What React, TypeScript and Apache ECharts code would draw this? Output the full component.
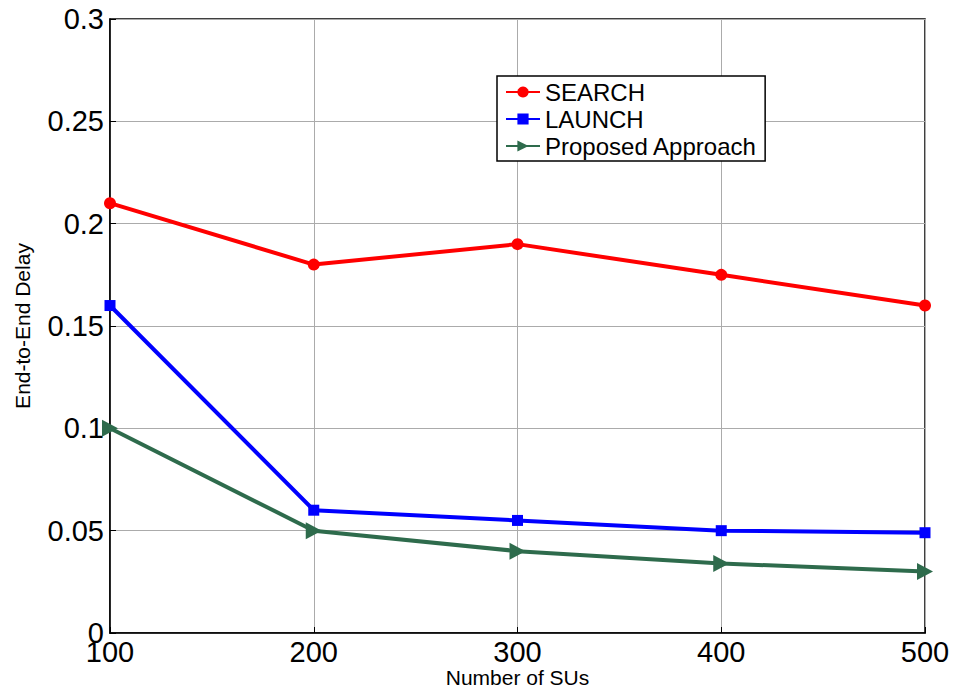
import React, { useEffect, useRef } from "react";
import * as echarts from "echarts";

const xValues = [100, 200, 300, 400, 500];
const searchValues = [0.21, 0.18, 0.19, 0.175, 0.16];
const launchValues = [0.16, 0.06, 0.055, 0.05, 0.049];
const proposedValues = [0.1, 0.05, 0.04, 0.034, 0.03];
const seriesNames = ["SEARCH", "LAUNCH", "Proposed Approach"];

const FONT = "'Liberation Sans', Arial, sans-serif";

export default function App() {
  const ref = useRef<HTMLDivElement>(null);
  useEffect(() => {
    if (!ref.current) return;
    const chart = echarts.init(ref.current, undefined, { renderer: "svg" });
    const pair = (vals: number[]) => xValues.map((x, i) => [x, vals[i]]);
    chart.setOption({
      animation: false,
      backgroundColor: "#ffffff",
      textStyle: { fontFamily: FONT },
      grid: {
        left: 110,
        top: 19,
        width: 815,
        height: 614,
        outerBoundsMode: "none",
        containLabel: false,
        show: true,
        borderColor: "#000",
        borderWidth: 1.5,
        backgroundColor: "transparent",
      },
      legend: {
        left: 497,
        top: 76,
        orient: "vertical",
        data: seriesNames,
        backgroundColor: "#fff",
        borderColor: "#000",
        borderWidth: 1.5,
        borderRadius: 0,
        padding: [4, 8, 3, 8],
        itemWidth: 34,
        itemHeight: 14,
        itemGap: 3,
        textStyle: { fontSize: 24, color: "#000", fontFamily: FONT },
      },
      xAxis: {
        type: "value",
        min: 100,
        max: 500,
        interval: 100,
        name: "Number of SUs",
        nameLocation: "middle",
        nameGap: 34,
        nameMoveOverlap: false,
        nameTextStyle: { fontSize: 21, color: "#000", fontFamily: FONT },
        axisLine: { lineStyle: { color: "#000", width: 1.5 } },
        axisTick: { inside: true, length: 6, lineStyle: { color: "#000" } },
        axisLabel: { fontSize: 29, color: "#000", margin: 4, fontFamily: FONT },
        splitLine: { show: true, lineStyle: { color: "#ababab", width: 1 } },
      },
      yAxis: {
        type: "value",
        min: 0,
        max: 0.3,
        interval: 0.05,
        name: "End-to-End Delay",
        nameLocation: "middle",
        nameGap: 77,
        nameMoveOverlap: false,
        nameTextStyle: { fontSize: 21, color: "#000", fontFamily: FONT },
        axisLine: { lineStyle: { color: "#000", width: 1.5 } },
        axisTick: { inside: true, length: 6, lineStyle: { color: "#000" } },
        axisLabel: { fontSize: 29, color: "#000", margin: 6, fontFamily: FONT },
        splitLine: { show: true, lineStyle: { color: "#ababab", width: 1 } },
      },
      series: [
        {
          name: seriesNames[0],
          type: "line",
          data: pair(searchValues),
          color: "#ff0000",
          lineStyle: { width: 4, color: "#ff0000" },
          symbol: "circle",
          symbolSize: 12,
          itemStyle: { color: "#ff0000" },
        },
        {
          name: seriesNames[1],
          type: "line",
          data: pair(launchValues),
          color: "#0000ff",
          lineStyle: { width: 4, color: "#0000ff" },
          symbol: "rect",
          symbolSize: 11,
          itemStyle: { color: "#0000ff" },
        },
        {
          name: seriesNames[2],
          type: "line",
          data: pair(proposedValues),
          color: "#2e6b4c",
          lineStyle: { width: 4, color: "#2e6b4c" },
          symbol: "path://M0,0 L10,6 L0,12 Z",
          symbolSize: [16, 17],
          itemStyle: { color: "#2e6b4c" },
        },
      ],
    });
    return () => chart.dispose();
  }, []);
  return (
    <div
      ref={ref}
      style={{ position: "fixed", left: 0, top: 0, width: 955, height: 690 }}
    />
  );
}
